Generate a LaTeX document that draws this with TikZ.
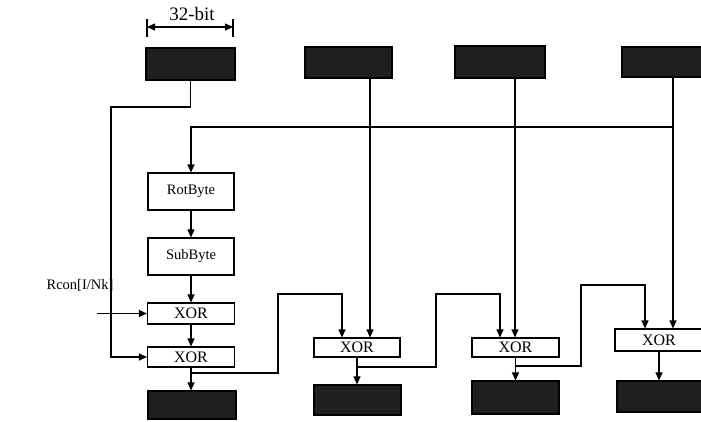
\documentclass[tikz,border=0pt]{standalone}
\usepackage{fontspec}
\setmainfont{Liberation Serif}
\usetikzlibrary{arrows.meta}
\begin{document}
\begin{tikzpicture}[x=1pt,y=-1pt,line width=1.1pt,
  arr/.style={-{Triangle[length=8pt,width=7pt]}},
  dimarr/.style={{Triangle[length=8pt,width=7pt]}-{Triangle[length=8pt,width=7pt]}},
  kbox/.style={draw=black,fill=black!88,inner sep=0pt},
  wbox/.style={draw=black,fill=white,inner sep=0pt,font=\fontsize{14.5}{16}\selectfont},
  xbox/.style={draw=black,fill=white,inner sep=0pt,font=\fontsize{16}{18}\selectfont},
  lbl/.style={inner sep=0pt,font=\fontsize{14.5}{16}\selectfont}]
\useasboundingbox (0,0) rectangle (701,421);
% dimension
\coordinate (dl) at (147,27);
\coordinate (dr) at (233,27);
\draw (147,19) -- (147,37);
\draw (233,19) -- (233,37);
\draw[dimarr] (dl) -- (dr);
\node[lbl,font=\fontsize{19}{21}\selectfont] (dim) at (192,14) {32-bit};
% key word boxes (top)
\node[kbox,minimum width=89pt,minimum height=32pt] (k0) at (190.5,64) {};
\node[kbox,minimum width=87pt,minimum height=31pt] (k1) at (348.5,62.5) {};
\node[kbox,minimum width=90pt,minimum height=32pt] (k2) at (500,62) {};
\node[kbox,minimum width=88pt,minimum height=30pt] (k3) at (666,62) {};
% left column
\node[wbox,minimum width=86pt,minimum height=37pt] (rot) at (191,191.5) {RotByte};
\node[wbox,minimum width=86pt,minimum height=37pt] (sub) at (191,256.5) {SubByte};
\node[xbox,minimum width=87pt,minimum height=21pt] (xa) at (191,313.5) {XOR};
\node[xbox,minimum width=87pt,minimum height=20pt] (xb) at (191,357) {XOR};
\node[kbox,minimum width=88pt,minimum height=28pt] (o1) at (192,405) {};
% other XORs
\node[xbox,minimum width=86pt,minimum height=19pt] (xc) at (357,347.5) {XOR};
\node[xbox,minimum width=87pt,minimum height=19pt] (xd) at (515.5,347.5) {XOR};
\node[xbox,minimum width=88pt,minimum height=22pt] (xe) at (659,340) {XOR};
% output boxes
\node[kbox,minimum width=87pt,minimum height=30pt] (o2) at (357.5,400) {};
\node[kbox,minimum width=87pt,minimum height=33pt] (o3) at (515.5,397.5) {};
\node[kbox,minimum width=88pt,minimum height=31pt] (o4) at (661,396.5) {};
% Rcon
\node[lbl] (rcon) at (80,285) {Rcon[I/Nk]};
\coordinate (rc) at (97,313.5);
\draw[arr] (rc) -- (xa.west);
% left chain
\draw[arr] (rot) -- (sub);
\draw[arr] (sub) -- (xa);
\draw[arr] (xa) -- (xb);
\draw[arr] (xb) -- (o1.north -| xb.south);
% feedback of first word
\coordinate (l1) at (111,107);
\draw[arr] (k0.south) |- (l1) |- (xb.west);
% last word to RotByte
\coordinate (j) at (673,127);
\draw (k3.south -| j) -- (j);
\draw[arr] (j) -- (xe.north -| j);
\draw[arr] (j) -| (rot.north);
% words to XORs
\coordinate (c1) at (370,0);
\coordinate (c2) at (515,0);
\draw[arr] (k1.south -| c1) -- (xc.north -| c1);
\draw[arr] (k2.south -| c2) -- (xd.north -| c2);
% XOR outputs
\draw[arr] (xc.south) -- (o2.north -| xc.south);
\draw[arr] (xd.south) -- (o3.north -| xd.south);
\draw[arr] (xe.south) -- (o4.north -| xe.south);
% chaining branches
\coordinate (bA) at (191,373);
\coordinate (tA) at (278,294);
\coordinate (eA) at (342,0);
\draw[arr] (bA) -| (tA) -| (xc.north -| eA);
\coordinate (bB) at (357,367);
\coordinate (tB) at (436,294);
\coordinate (eB) at (500,0);
\draw[arr] (bB) -| (tB) -| (xd.north -| eB);
\coordinate (bC) at (515.5,366);
\coordinate (tC) at (581,285);
\coordinate (eC) at (645,0);
\draw[arr] (bC) -| (tC) -| (xe.north -| eC);
\end{tikzpicture}
\end{document}
